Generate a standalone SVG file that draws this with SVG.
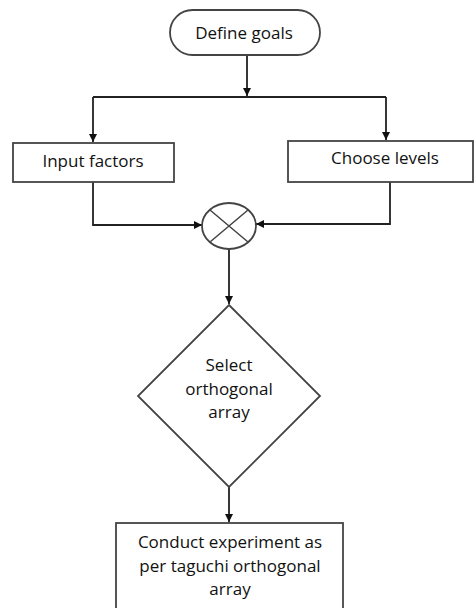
<svg xmlns="http://www.w3.org/2000/svg" width="475" height="608" viewBox="0 0 475 608">
<defs>
<marker id="ah" viewBox="0 0 10 10" refX="10" refY="5" markerWidth="8" markerHeight="8" markerUnits="userSpaceOnUse" orient="auto">
<path d="M0,0 L10,5 L0,10 z" fill="#111"/>
</marker>
<style>
.n{fill:#fff;stroke:#444;stroke-width:1.8}
.c{fill:none;stroke:#222;stroke-width:1.8}
.t{font-family:"Open Sans","Noto Sans",sans-serif;font-size:17px;fill:#111;text-anchor:middle}
</style>
</defs>
<rect width="475" height="608" fill="#fff"/>
<g id="connectors">
<path class="c" d="M247,55 V96" marker-end="url(#ah)"/>
<path class="c" d="M93,97 H386"/>
<path class="c" d="M93,97 V142" marker-end="url(#ah)"/>
<path class="c" d="M386,97 V140" marker-end="url(#ah)"/>
<path class="c" d="M93,182 V225 H202" marker-end="url(#ah)"/>
<path class="c" d="M390,182 V224 H256" marker-end="url(#ah)"/>
<path class="c" d="M229,249 V304" marker-end="url(#ah)"/>
<path class="c" d="M229,487 V522" marker-end="url(#ah)"/>
</g>
<g id="define-goals">
<rect class="n" x="170" y="10" width="150" height="45" rx="22.5"/>
<text class="t" x="244" y="39">Define goals</text>
</g>
<g id="input-factors">
<rect class="n" x="13" y="143" width="161" height="39"/>
<text class="t" x="93" y="167">Input factors</text>
</g>
<g id="choose-levels">
<rect class="n" x="288" y="141" width="185" height="41"/>
<text class="t" x="385" y="164">Choose levels</text>
</g>
<g id="combine">
<ellipse class="n" cx="229" cy="226" rx="27" ry="23"/>
<path d="M210,210 L248,242 M248,210 L210,242" style="fill:none;stroke:#444;stroke-width:1.5"/>
</g>
<g id="select-array">
<path class="n" d="M229,305 L320,396 L229,487 L138,396 Z"/>
<text class="t" x="229" y="371">Select</text>
<text class="t" x="229" y="395">orthogonal</text>
<text class="t" x="229" y="418">array</text>
</g>
<g id="conduct">
<rect class="n" x="116" y="523" width="227" height="95"/>
<text class="t" x="230" y="548">Conduct experiment as</text>
<text class="t" x="230" y="572">per taguchi orthogonal</text>
<text class="t" x="230" y="595">array</text>
</g>
</svg>
